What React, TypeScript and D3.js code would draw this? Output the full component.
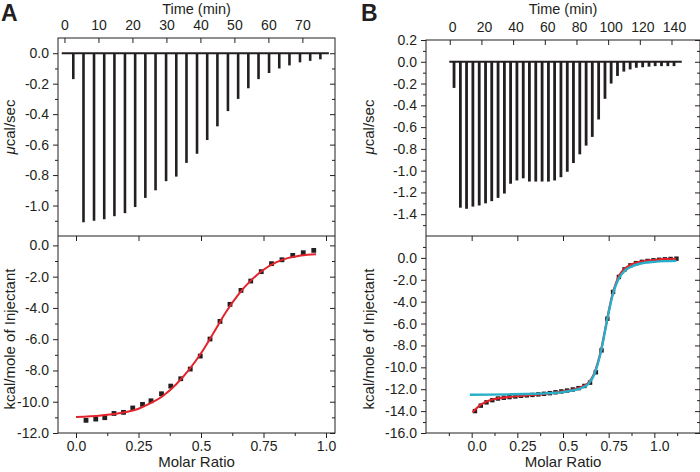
import React, { useEffect, useRef } from "react";
import * as d3 from "d3";

// ---- panel A : raw heat (top) ----
const injTimeA = [2.6, 5.6, 8.7, 11.7, 14.7, 17.8, 20.8, 23.8, 26.8, 29.9, 32.9, 35.9, 39.0, 42.0, 45.0, 48.1, 51.1, 54.1, 57.1, 60.2, 63.2, 66.2, 69.3, 72.3, 75.3];
const peakA = [-0.17, -1.11, -1.1, -1.09, -1.07, -1.05, -1.01, -0.95, -0.9, -0.84, -0.81, -0.72, -0.66, -0.57, -0.48, -0.38, -0.3, -0.23, -0.17, -0.13, -0.1, -0.08, -0.06, -0.05, -0.04];
const baseA = [-0.8, 77.8];
const timeTicksA = [0, 10, 20, 30, 40, 50, 60, 70];
const rawTicksA = [0, -0.2, -0.4, -0.6, -0.8, -1.0];
const rawMinorA = [-0.1, -0.3, -0.5, -0.7, -0.9, -1.1];

// ---- panel A : integrated heats (bottom) ----
const molarA = [0.04, 0.079, 0.115, 0.152, 0.19, 0.227, 0.266, 0.3, 0.342, 0.379, 0.419, 0.457, 0.497, 0.536, 0.576, 0.616, 0.66, 0.699, 0.741, 0.782, 0.824, 0.867, 0.909, 0.951];
const heatA = [-11.19, -11.11, -11.02, -10.75, -10.68, -10.4, -10.17, -9.94, -9.49, -9.0, -8.53, -7.91, -7.08, -5.99, -4.86, -3.77, -2.88, -2.28, -1.68, -1.17, -0.92, -0.64, -0.47, -0.32];
const fitXA = [0, 0.1, 0.2, 0.25, 0.3, 0.35, 0.4, 0.45, 0.5, 0.55, 0.6, 0.65, 0.7, 0.75, 0.8, 0.85, 0.9, 0.96];
const fitYA = [-10.98, -10.88, -10.66, -10.45, -10.08, -9.6, -8.9, -8.0, -6.9, -5.6, -4.26, -3.13, -2.24, -1.56, -1.09, -0.8, -0.64, -0.56];
const heatTicksA = [0, -2, -4, -6, -8, -10, -12];
const heatMinorA = [-1, -3, -5, -7, -9, -11];
const ratioTicksA = [0, 0.25, 0.5, 0.75, 1.0];
const ratioMinorA = [0.125, 0.375, 0.625, 0.875];

// ---- panel B : raw heat (top) ----
const injTimeB = [2.7, 6.7, 10.6, 14.6, 18.6, 22.6, 26.5, 30.5, 34.5, 38.4, 42.4, 46.4, 50.3, 54.3, 58.3, 62.3, 66.2, 70.2, 74.2, 78.1, 82.1, 86.1, 90.0, 94.0, 98.0, 101.9, 105.9, 109.9, 113.9, 117.8, 121.8, 125.8, 129.7, 133.7, 137.7, 141.6];
const peakB = [-0.24, -1.34, -1.35, -1.33, -1.32, -1.3, -1.28, -1.25, -1.21, -1.12, -1.09, -1.07, -1.1, -1.1, -1.1, -1.1, -1.09, -1.06, -1.01, -0.93, -0.85, -0.77, -0.69, -0.53, -0.34, -0.2, -0.13, -0.09, -0.07, -0.055, -0.05, -0.045, -0.04, -0.04, -0.04, -0.04];
const baseB = [-0.3, 146.5];
const timeTicksB = [0, 20, 40, 60, 80, 100, 120, 140];
const rawTicksB = [0.2, 0, -0.2, -0.4, -0.6, -0.8, -1.0, -1.2, -1.4];
const rawMinorB = [0.1, -0.1, -0.3, -0.5, -0.7, -0.9, -1.1, -1.3, -1.5];

// ---- panel B : integrated heats (bottom) ----
const molarB = [0.018, 0.05, 0.081, 0.113, 0.144, 0.176, 0.207, 0.239, 0.27, 0.302, 0.333, 0.365, 0.396, 0.428, 0.459, 0.491, 0.522, 0.554, 0.585, 0.617, 0.648, 0.68, 0.711, 0.743, 0.774, 0.806, 0.837, 0.869, 0.9, 0.932, 0.963, 0.995, 1.026, 1.058, 1.089, 1.121];
const heatB = [-14.0, -13.5, -13.2, -13.0, -12.85, -12.78, -12.72, -12.66, -12.6, -12.56, -12.52, -12.47, -12.42, -12.36, -12.28, -12.2, -12.12, -12.02, -11.9, -11.7, -11.4, -10.45, -8.45, -5.56, -3.11, -1.74, -1.05, -0.68, -0.48, -0.36, -0.28, -0.22, -0.17, -0.13, -0.1, -0.07];
const fitXB = [0.005, 0.05, 0.1, 0.15, 0.2, 0.3, 0.4, 0.5, 0.55, 0.6, 0.64, 0.67, 0.69, 0.71, 0.73, 0.75, 0.77, 0.79, 0.81, 0.84, 0.88, 0.93, 1.0, 1.06, 1.12];
const fitRedB = [-14.1, -13.4, -13.0, -12.82, -12.72, -12.57, -12.42, -12.2, -12.05, -11.8, -11.4, -10.6, -9.6, -8.3, -6.6, -4.9, -3.4, -2.3, -1.55, -0.95, -0.55, -0.33, -0.2, -0.12, -0.08];
const fitXCyan = [-0.01, 0.1, 0.2, 0.3, 0.4, 0.5, 0.55, 0.6, 0.64, 0.67, 0.69, 0.71, 0.73, 0.75, 0.77, 0.79, 0.81, 0.84, 0.88, 0.93, 1.0, 1.06, 1.12];
const fitCyanB = [-12.5, -12.49, -12.47, -12.44, -12.38, -12.26, -12.12, -11.9, -11.5, -10.7, -9.7, -8.4, -6.7, -5.0, -3.5, -2.45, -1.75, -1.15, -0.75, -0.5, -0.36, -0.3, -0.27];
const heatTicksB = [0, -2, -4, -6, -8, -10, -12, -14, -16];
const heatMinorB = [1, -1, -3, -5, -7, -9, -11, -13, -15];
const ratioTicksB = [0, 0.25, 0.5, 0.75, 1.0];
const ratioMinorB = [-0.125, 0.125, 0.375, 0.625, 0.875, 1.125];

const INK = "#231f20";
const RED = "#e3232b";
const CYAN = "#27aec8";
const FONT = "'Liberation Sans', Arial, Helvetica, sans-serif";

const f1 = (d) => (+d).toFixed(1);
const fRatio = (d) => (d === 0.25 || d === 0.75 ? d.toFixed(2) : (+d).toFixed(1));

function putAxis(g, axis, tx, ty, dx = 0) {
  const s = g.append("g").attr("transform", `translate(${tx},${ty})`).call(axis);
  s.select(".domain").remove();
  s.attr("font-family", FONT).attr("font-size", 14);
  s.selectAll("line").attr("stroke", INK).attr("stroke-width", 1);
  s.selectAll("text").attr("fill", INK).attr("dx", dx);
  return s;
}

function drawPanel(svg, p) {
  const g = svg.append("g");
  const xt = d3.scaleLinear().domain(p.timeDomain).range([p.left, p.right]);
  const yr = d3.scaleLinear().domain(p.rawDomain).range([p.mid, p.top]);
  const xm = d3.scaleLinear().domain(p.ratioDomain).range([p.left, p.right]);
  const yh = d3.scaleLinear().domain(p.heatDomain).range([p.bottom, p.mid]);

  // frames
  g.append("rect").attr("x", p.left).attr("y", p.top).attr("width", p.right - p.left).attr("height", p.bottom - p.top)
    .attr("fill", "none").attr("stroke", INK).attr("stroke-width", 1);
  g.append("line").attr("x1", p.left).attr("x2", p.right).attr("y1", p.mid).attr("y2", p.mid).attr("stroke", INK);

  // top panel axes
  const none = () => "";
  putAxis(g, d3.axisLeft(yr).tickValues(p.rawTicks).tickSize(5).tickPadding(4).tickFormat(f1), p.left, 0);
  putAxis(g, d3.axisLeft(yr).tickValues(p.rawMinor).tickSize(3).tickFormat(none), p.left, 0);
  putAxis(g, d3.axisLeft(yr).tickValues(p.rawTicks).tickSize(5).tickFormat(none), p.right, 0);
  putAxis(g, d3.axisLeft(yr).tickValues(p.rawMinor).tickSize(3).tickFormat(none), p.right, 0);
  putAxis(g, d3.axisBottom(xt).tickValues(p.timeTicks).tickSize(5).tickFormat(none), 0, p.top);
  putAxis(g, d3.axisTop(xt).tickValues(p.timeTicks).tickSize(0).tickPadding(8).tickFormat(d3.format("d")), 0, p.top, p.labelShift / 2);

  // bottom panel axes
  putAxis(g, d3.axisLeft(yh).tickValues(p.heatTicks).tickSize(5).tickPadding(4).tickFormat(f1), p.left, 0);
  putAxis(g, d3.axisLeft(yh).tickValues(p.heatMinor).tickSize(3).tickFormat(none), p.left, 0);
  putAxis(g, d3.axisLeft(yh).tickValues(p.heatTicks).tickSize(5).tickFormat(none), p.right, 0);
  putAxis(g, d3.axisLeft(yh).tickValues(p.heatMinor).tickSize(3).tickFormat(none), p.right, 0);
  putAxis(g, d3.axisBottom(xm).tickValues(p.ratioTicks).tickSize(5).tickPadding(3).tickFormat(fRatio), 0, p.bottom, p.labelShift);
  putAxis(g, d3.axisBottom(xm).tickValues(p.ratioMinor).tickSize(3).tickFormat(none), 0, p.bottom);
  putAxis(g, d3.axisBottom(xm).tickValues(p.ratioTicks).tickSize(5).tickFormat(none), 0, p.mid);

  // raw thermogram: baseline + injection spikes
  g.append("line").attr("x1", xt(p.base[0])).attr("x2", xt(p.base[1])).attr("y1", yr(0)).attr("y2", yr(0))
    .attr("stroke", INK).attr("stroke-width", 2);
  g.append("g").selectAll("line").data(p.injTime).join("line")
    .attr("x1", (d) => xt(d)).attr("x2", (d) => xt(d))
    .attr("y1", yr(0)).attr("y2", (d, i) => yr(p.peak[i]))
    .attr("stroke", INK).attr("stroke-width", p.spikeW);

  // integrated heats
  const pts = p.molar.map((m, i) => [m, p.heat[i]]);
  g.append("g").selectAll("rect").data(pts).join("rect")
    .attr("x", (d) => xm(d[0]) - p.sq / 2).attr("y", (d) => yh(d[1]) - p.sq / 2)
    .attr("width", p.sq).attr("height", p.sq).attr("fill", INK);

  const line = d3.line().x((d) => xm(d[0])).y((d) => yh(d[1])).curve(d3.curveMonotoneX);
  p.fits.forEach((f) => {
    g.append("path").attr("d", line(f.x.map((v, i) => [v, f.y[i]])))
      .attr("fill", "none").attr("stroke", f.color).attr("stroke-width", f.w);
  });

  // titles
  const t = g.append("g").attr("font-family", FONT).attr("fill", INK).attr("font-size", 15).attr("text-anchor", "middle");
  const cx = (p.left + p.right) / 2;
  t.append("text").attr("x", cx).attr("y", 14).attr("font-size", 14.5).text("Time (min)");
  t.append("text").attr("x", cx).attr("y", 467).text("Molar Ratio");
  const mu = t.append("text").attr("transform", `translate(${p.titleX},127) rotate(-90)`);
  mu.append("tspan").attr("font-style", "italic").text("μ");
  mu.append("tspan").text("cal/sec");
  t.append("text").attr("transform", `translate(${p.titleX},339) rotate(-90)`).text("kcal/mole of Injectant");
  g.append("text").attr("x", p.letterX).attr("y", 21).attr("font-family", FONT).attr("font-weight", "bold")
    .attr("font-size", 23).attr("fill", INK).text(p.letter);
}

export default function App() {
  const ref = useRef(null);
  useEffect(() => {
    const svg = d3.select(ref.current);
    svg.selectAll("*").remove();
    drawPanel(svg, {
      letter: "A", letterX: 1, titleX: 15,
      left: 58, right: 335, top: 38, mid: 236, bottom: 433,
      timeDomain: [-1.9, 79.6], rawDomain: [-1.2, 0.1], ratioDomain: [-0.072, 1.036], heatDomain: [-12, 0.6],
      timeTicks: timeTicksA, rawTicks: rawTicksA, rawMinor: rawMinorA,
      heatTicks: heatTicksA, heatMinor: heatMinorA, ratioTicks: ratioTicksA, ratioMinor: ratioMinorA,
      injTime: injTimeA, peak: peakA, base: baseA, spikeW: 2.6,
      molar: molarA, heat: heatA, sq: 4.8, labelShift: 0,
      fits: [{ x: fitXA, y: fitYA, color: RED, w: 2 }],
    });
    drawPanel(svg, {
      letter: "B", letterX: 361, titleX: 374,
      left: 426, right: 700, top: 40, mid: 236, bottom: 433,
      timeDomain: [-15, 158], rawDomain: [-1.6, 0.2], ratioDomain: [-0.25, 1.25], heatDomain: [-16, 2],
      timeTicks: timeTicksB, rawTicks: rawTicksB, rawMinor: rawMinorB,
      heatTicks: heatTicksB, heatMinor: heatMinorB, ratioTicks: ratioTicksB, ratioMinor: ratioMinorB,
      injTime: injTimeB, peak: peakB, base: baseB, spikeW: 2.8,
      molar: molarB, heat: heatB, sq: 4.4, labelShift: 5,
      fits: [
        { x: fitXB, y: fitRedB, color: RED, w: 2.2 },
        { x: fitXCyan, y: fitCyanB, color: CYAN, w: 2.4 },
      ],
    });
  }, []);
  return (
    <svg ref={ref} width={700} height={472} style={{ position: "absolute", left: 0, top: 0, background: "#fff" }} />
  );
}
